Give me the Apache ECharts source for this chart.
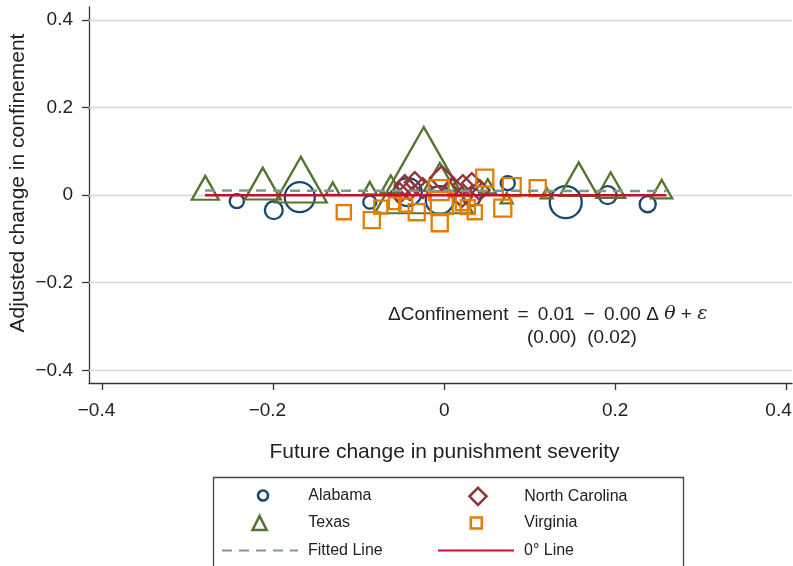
<!DOCTYPE html>
<html>
<head>
<meta charset="utf-8">
<script src="https://cdn.jsdelivr.net/npm/echarts@6/dist/echarts.min.js"></script>
<style>html,body{margin:0;padding:0;background:#fff}#c{width:793px;height:566px}</style>
</head>
<body>
<div id="c"></div>
<script>
// ---- data ----
var tickValues = [-0.4, -0.2, 0, 0.2, 0.4];

var alabamaX = [-0.2428, -0.1995, -0.1691, -0.0872, -0.0427, -0.0053, 0.0322, 0.0743, 0.1422, 0.1913, 0.2381];
var alabamaY = [-0.0137, -0.0343, -0.0046, -0.0160, 0.0069, -0.0114, -0.0046, 0.0274, -0.0160, 0.0000, -0.0206];
var alabamaW = [2.0, 3.2, 9.0, 1.7, 7.8, 7.8, 3.2, 2.0, 10.2, 3.2, 2.6];

var texasX = [-0.2797, -0.2124, -0.1679, -0.1305, -0.0872, -0.0626, -0.0240, -0.0053, 0.0509, 0.0731, 0.1200, 0.1574, 0.1948, 0.2545];
var texasY = [0.0167, 0.0263, 0.0354, 0.0149, 0.0160, 0.0251, 0.0571, 0.0411, 0.0206, -0.0069, 0.0046, 0.0366, 0.0229, 0.0137];
var texasW = [7.3, 13.0, 27.0, 2.0, 2.0, 4.0, 96.0, 10.2, 2.6, 1.4, 1.4, 14.4, 8.4, 4.4];

var ncX = [-0.0521, -0.0462, -0.0404, -0.0345, -0.0252, -0.0029, 0.0099, 0.0205, 0.0217, 0.0322, 0.0415];
var ncY = [0.0046, 0.0229, 0.0114, 0.0297, 0.0160, 0.0389, 0.0183, -0.0046, 0.0229, 0.0274, 0.0114];
var ncW = [4.0, 4.0, 4.0, 4.0, 4.0, 5.8, 4.0, 4.0, 4.0, 4.0, 4.0];

var vaX = [-0.1176, -0.0848, -0.0743, -0.0579, -0.0451, -0.0322, -0.0064, -0.0029, -0.0053, 0.0217, 0.0275, 0.0357, 0.0474, 0.0685, 0.0790, 0.1094];
var vaY = [-0.0389, -0.0571, -0.0274, -0.0183, -0.0229, -0.0389, 0.0114, -0.0183, -0.0640, -0.0183, -0.0274, -0.0389, 0.0389, -0.0297, 0.0183, 0.0160];
var vaW = [2.0, 2.6, 1.7, 1.4, 1.7, 2.6, 4.0, 4.8, 2.6, 2.0, 2.0, 2.0, 2.9, 2.9, 3.2, 2.6];

var fittedX = [-0.28, 0.26];
var fittedY = [0.0105, 0.0095];
var zeroX = [-0.28, 0.26];
var zeroY = [0, 0];

// ---- build ----
function pts(xs, ys, ws) {
  return xs.map(function (x, i) { return ws ? [x, ys[i], ws[i]] : [x, ys[i]]; });
}
var FONT = 'Liberation Sans, Arial, Helvetica, sans-serif';
function fmt(v) {
  if (Math.abs(v) < 1e-9) return '0';
  return (v < 0 ? '\u2212' : '') + Math.abs(v).toFixed(1);
}
function fmtX(v) {
  var s = fmt(v);
  if (v < -1e-9) return '{n|' + s + '}';
  if (v > 0.3) return '{e|' + s + '}';
  return '{p|' + s + '}';
}
var C = { al: '#1a476f', tx: '#55752f', nc: '#90353b', va: '#e37e00', fit: '#7a9a8e', zero: '#c8102e' };

function scat(name, data, sym, color, sizeFn) {
  return {
    name: name, type: 'scatter', data: data, symbol: sym, z: 3,
    symbolSize: function (v) { return sizeFn(v[2]); },
    itemStyle: { color: 'rgba(0,0,0,0)', borderColor: color, borderWidth: 2.3, opacity: 1 }
  };
}

var LH = 18;
var legendText = function (pad) {
  return { fontSize: 16, color: '#222', lineHeight: LH, fontFamily: FONT, padding: [0, 0, 0, pad] };
};
function markLegend(name, size, cx, cy, textX) {
  var left = cx - size / 2;
  var h = Math.max(size, LH);
  return {
    left: left, top: cy - h / 2, orient: 'vertical', padding: 0,
    itemWidth: size, itemHeight: size, data: [name],
    itemStyle: { borderWidth: 2.6 },
    textStyle: legendText(textX - (left + size + 5))
  };
}

var chart = echarts.init(document.getElementById('c'), null, { renderer: 'canvas' });
chart.setOption({
  animation: false,
  backgroundColor: '#fff',
  textStyle: { fontFamily: FONT },
  grid: { left: 89, right: 1, top: 7, bottom: 183, containLabel: false, outerBoundsMode: 'none' },
  xAxis: {
    type: 'value', min: -0.4158, max: 0.407,
    name: 'Future change in punishment severity', nameLocation: 'middle', nameGap: 59,
    nameTextStyle: { fontSize: 21, color: '#222', fontFamily: FONT, padding: [0, 0, 0, 8] },
    axisLine: { show: true, onZero: false, lineStyle: { color: '#333', width: 1.3 } },
    axisTick: { show: true, customValues: tickValues, length: 7, lineStyle: { color: '#333', width: 1.3 } },
    axisLabel: {
      customValues: tickValues, formatter: fmtX, fontSize: 19, color: '#222', margin: 18, fontFamily: FONT,
      rich: {
        n: { fontSize: 19, fontFamily: FONT, color: '#222', padding: [0, 12, 0, 0] },
        p: { fontSize: 19, fontFamily: FONT, color: '#222' },
        e: { fontSize: 19, fontFamily: FONT, color: '#222', padding: [0, 15, 0, 0] }
      }
    },
    splitLine: { show: false }
  },
  yAxis: {
    type: 'value', min: -0.429, max: 0.4297,
    name: 'Adjusted change in confinement', nameLocation: 'middle', nameGap: 60, nameMoveOverlap: false,
    nameTextStyle: { fontSize: 21, color: '#222', fontFamily: FONT, padding: [0, 0, 0, 24] },
    axisLine: { show: true, onZero: false, lineStyle: { color: '#333', width: 1.3 } },
    axisTick: { show: true, customValues: tickValues, length: 7, lineStyle: { color: '#333', width: 1.3 } },
    axisLabel: { customValues: tickValues, formatter: fmt, fontSize: 19, color: '#222', margin: 16, fontFamily: FONT },
    splitLine: { show: false }
  },
  legend: [
    markLegend('Alabama', 10, 261.7, 495.5, 307),
    markLegend('Texas', 14, 258.3, 523, 307),
    markLegend('North Carolina', 17, 476.7, 495.5, 523),
    markLegend('Virginia', 11, 475, 523, 523),
    {
      left: 221, top: 550.5 - LH / 2, orient: 'vertical', padding: 0, itemWidth: 76, itemHeight: 12,
      data: ['Fitted Line'], textStyle: legendText(5), itemStyle: { opacity: 0 }
    },
    {
      left: 437, top: 550.5 - LH / 2, orient: 'vertical', padding: 0, itemWidth: 76, itemHeight: 12,
      data: ['0\u00b0 Line'], textStyle: legendText(5), itemStyle: { opacity: 0 }
    }
  ],
  graphic: [
    { type: 'rect', left: 211, top: 475, shape: { width: 470, height: 100 }, style: { fill: 'none', stroke: '#444', lineWidth: 1.3 }, silent: true },
    {
      type: 'text', left: 388, top: 305,
      style: {
        text: '{a|\u0394Confinement\u2009 = \u20090.01\u2009 \u2212 \u20090.00 \u0394 }{i|\u03b8}{a| + }{i|\u03b5}',
        rich: {
          a: { fontSize: 19, fontFamily: FONT, fill: '#222' },
          i: { fontSize: 19, fontFamily: 'DejaVu Serif, Liberation Serif, serif', fontStyle: 'italic', fill: '#222' }
        }
      }
    },
    {
      type: 'text', left: 527, top: 328,
      style: { text: '(0.00)  (0.02)', fontSize: 19, fontFamily: FONT, fill: '#222' }
    }
  ],
  series: [
    {
      name: 'grid', type: 'line', data: [], silent: true, z: 1,
      markLine: {
        silent: true, symbol: 'none', z: 1, animation: false,
        label: { show: false },
        lineStyle: { color: '#d6d6d6', width: 1.3, type: 'solid' },
        data: tickValues.map(function (v) { return { yAxis: v }; })
      }
    },
    scat('Alabama', pts(alabamaX, alabamaY, alabamaW), 'circle', C.al, function (w) { return 10 * Math.sqrt(w); }),
    scat('Texas', pts(texasX, texasY, texasW), 'triangle', C.tx, function (w) { var d = 10 * Math.sqrt(w); return [d, d * 0.88]; }),
    scat('North Carolina', pts(ncX, ncY, ncW), 'diamond', C.nc, function (w) { var d = 10 * Math.sqrt(w); return [d, d]; }),
    scat('Virginia', pts(vaX, vaY, vaW), 'rect', C.va, function (w) { return 10 * Math.sqrt(w); }),
    {
      name: 'Fitted Line', type: 'line', data: pts(fittedX, fittedY), symbol: 'none', z: 4,
      lineStyle: { color: C.fit, width: 2.5, type: [10, 7] }, itemStyle: { color: C.fit }
    },
    {
      name: '0\u00b0 Line', type: 'line', data: pts(zeroX, zeroY), symbol: 'none', z: 4,
      lineStyle: { color: C.zero, width: 2.5, type: 'solid' }, itemStyle: { color: C.zero }
    }
  ]
});
</script>
</body>
</html>
